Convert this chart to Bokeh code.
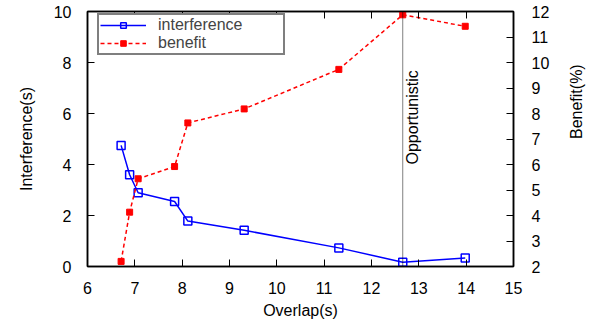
import numpy as np
from bokeh.plotting import figure
from bokeh.models import Range1d, LinearAxis, Span, Label, Legend, LegendItem, FixedTicker
from bokeh.embed import file_html
from bokeh.resources import INLINE

overlap = [6.71, 6.89, 7.07, 7.84, 8.12, 9.31, 11.31, 12.66, 13.98]
interference = [4.75, 3.60, 2.89, 2.55, 1.78, 1.42, 0.73, 0.17, 0.33]
benefit = [2.20, 4.13, 5.44, 5.92, 7.63, 8.18, 9.73, 11.87, 11.42]
opportunistic_x = 12.66
x_ticks = [6, 7, 8, 9, 10, 11, 12, 13, 14, 15]
y_ticks = [0, 2, 4, 6, 8, 10]
y2_ticks = [2, 3, 4, 5, 6, 7, 8, 9, 10, 11, 12]

FONT = "Liberation Sans"
FS = "16px"

p = figure(frame_width=426, frame_height=255, output_backend="svg", toolbar_location=None,
           x_range=Range1d(6, 15), y_range=Range1d(0, 10),
           min_border_left=87, min_border_right=82, min_border_top=11, min_border_bottom=56)
p.extra_y_ranges = {"benefit": Range1d(2, 12)}
p.grid.visible = False
p.outline_line_color = "black"
p.outline_line_width = 1.5
p.background_fill_color = "white"
p.border_fill_color = "white"

def style_axis(ax, ticks, standoff):
    ax.ticker = FixedTicker(ticks=ticks)
    ax.minor_tick_line_color = None
    ax.major_tick_in = 7
    ax.major_tick_out = 0
    ax.major_tick_line_color = "black"
    ax.major_tick_line_width = 1
    ax.axis_line_color = "black"
    ax.axis_line_width = 1.5
    ax.major_label_text_font = FONT
    ax.major_label_text_font_size = FS
    ax.major_label_text_color = "black"
    ax.major_label_standoff = standoff
    ax.axis_label_text_font = FONT
    ax.axis_label_text_font_size = FS
    ax.axis_label_text_font_style = "normal"
    ax.axis_label_text_color = "black"

xa = p.xaxis[0]
style_axis(xa, x_ticks, 15)
xa.axis_label = "Overlap(s)"
xa.axis_label_standoff = 5

ya = p.yaxis[0]
style_axis(ya, y_ticks, 16)
ya.axis_label = "Interference(s)"
ya.axis_label_standoff = 16

ra = LinearAxis(y_range_name="benefit")
style_axis(ra, y2_ticks, 18)
ra.axis_label = "Benefit(%)"
ra.axis_label_standoff = 24
ra.axis_label_orientation = np.pi / 2
p.add_layout(ra, "right")

ta = LinearAxis()
style_axis(ta, x_ticks, 0)
ta.major_label_overrides = {t: "" for t in x_ticks}
ta.major_label_text_font_size = "0px"
p.add_layout(ta, "above")

span = Span(location=opportunistic_x, dimension="height", line_color="black",
            line_width=1, line_dash="1 1")
p.add_layout(span)
p.add_layout(Label(x=opportunistic_x, y=4.0, text="Opportunistic", angle=np.pi / 2,
                   text_font=FONT, text_font_size=FS, text_baseline="top",
                   text_align="left", x_offset=1, text_color="black"))

l1 = p.line(overlap, interference, line_color="#0000ff", line_width=1.5)
s1 = p.scatter(overlap, interference, marker="square", size=8, fill_color=None,
               line_color="#0000ff", line_width=1.5)
l2 = p.line(overlap, benefit, y_range_name="benefit", line_color="#ff0000",
            line_width=1.5, line_dash="4 3")
s2 = p.scatter(overlap, benefit, y_range_name="benefit", marker="square", size=6,
               fill_color="#ff0000", line_color="#ff0000")

leg = Legend(items=[LegendItem(label="interference", renderers=[l1, s1]),
                    LegendItem(label="benefit", renderers=[l2, s2])],
             location=(10, 211), border_line_color="black", border_line_width=2,
             label_text_font=FONT, label_text_font_size=FS, glyph_width=46,
             glyph_height=14, label_height=14, label_width=124, spacing=0,
             padding=1, margin=0, label_standoff=12, background_fill_alpha=1)
p.add_layout(leg)

open("out.html", "w").write(file_html(p, INLINE))
